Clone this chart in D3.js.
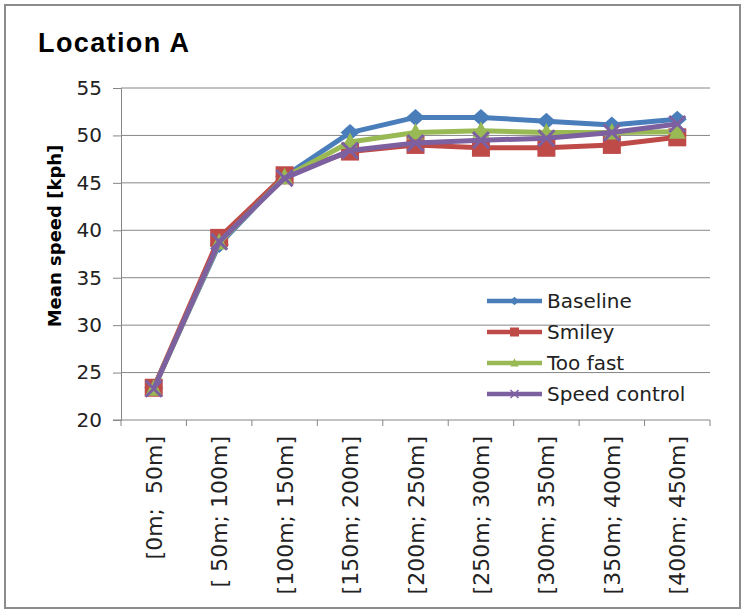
<!DOCTYPE html>
<html lang="en">
<head>
    <meta charset="UTF-8">
    <title>Location A</title>
    <script src="https://cdn.jsdelivr.net/npm/d3@7"></script>
    <style>
        body { margin: 0; background: #fff; }
        text { font-family: "DejaVu Sans", Verdana, sans-serif; }
    </style>
</head>
<body>
<script>
    var categories = ["[0m;  50m]", "[ 50m; 100m]", "[100m; 150m]", "[150m; 200m]", "[200m; 250m]",
        "[250m; 300m]", "[300m; 350m]", "[350m; 400m]", "[400m; 450m]"];
    var seriesNames = ["Baseline", "Smiley", "Too fast", "Speed control"];
    var baseline = [23.4, 38.5, 45.7, 50.3, 51.9, 51.9, 51.5, 51.1, 51.7];
    var smiley = [23.4, 39.2, 45.8, 48.3, 49.0, 48.7, 48.7, 49.0, 49.8];
    var tooFast = [23.3, 38.7, 45.6, 49.3, 50.3, 50.5, 50.3, 50.3, 50.4];
    var speedControl = [23.3, 38.8, 45.5, 48.4, 49.2, 49.5, 49.7, 50.3, 51.2];
    var yTicks = [20, 25, 30, 35, 40, 45, 50, 55];

    var colors = ["#4a7ebb", "#be4b48", "#98b954", "#7d60a0"];
    var markers = ["diamond", "square", "triangle", "x"];
    var allSeries = [baseline, smiley, tooFast, speedControl];

    var width = 743, height = 610;
    var plotLeft = 121, plotRight = 710, plotTop = 88, plotBottom = 420;

    var svg = d3.select("body").append("svg")
        .attr("width", width)
        .attr("height", height);

    // outer frame
    svg.append("rect")
        .attr("x", 5).attr("y", 5)
        .attr("width", 735).attr("height", 603)
        .attr("fill", "#fff")
        .attr("stroke", "#8c8c8c")
        .attr("stroke-width", 2);

    svg.append("text")
        .attr("x", 38).attr("y", 52)
        .style("font-family", "'Liberation Sans', Arial, sans-serif")
        .style("font-weight", "bold")
        .style("font-size", "27px")
        .attr("textLength", 151)
        .text("Location A");

    var x = d3.scaleBand().domain(categories).range([plotLeft, plotRight]);
    var y = d3.scaleLinear().domain([20, 55]).range([plotBottom, plotTop]);

    // gridlines
    svg.append("g").selectAll("line")
        .data(yTicks.slice(1))
        .enter().append("line")
        .attr("x1", plotLeft).attr("x2", plotRight)
        .attr("y1", function(d) { return y(d); })
        .attr("y2", function(d) { return y(d); })
        .attr("stroke", "#868686")
        .attr("stroke-width", 1);

    // y axis
    var yAxis = svg.append("g")
        .attr("transform", "translate(" + plotLeft + ",0)")
        .call(d3.axisLeft(y).tickValues(yTicks).tickSize(8).tickPadding(11));
    yAxis.select(".domain").attr("stroke", "#868686");
    yAxis.selectAll(".tick line").attr("stroke", "#868686");
    yAxis.selectAll("text")
        .style("font-family", "'DejaVu Sans', Verdana, sans-serif")
        .style("font-size", "20px")
        .attr("fill", "#222");

    // x axis, ticks on band boundaries
    svg.append("line")
        .attr("x1", plotLeft - 8).attr("x2", plotRight)
        .attr("y1", plotBottom).attr("y2", plotBottom)
        .attr("stroke", "#868686");
    svg.append("g").selectAll("line")
        .data(d3.range(categories.length + 1))
        .enter().append("line")
        .attr("x1", function(i) { return plotLeft + i * x.step(); })
        .attr("x2", function(i) { return plotLeft + i * x.step(); })
        .attr("y1", plotBottom).attr("y2", plotBottom + 6)
        .attr("stroke", "#868686");

    svg.append("g").selectAll("text")
        .data(categories)
        .enter().append("text")
        .attr("transform", function(d) {
            return "translate(" + (x(d) + x.bandwidth() / 2 + 8) + "," + 436 + ") rotate(-90)";
        })
        .attr("text-anchor", "end")
        .style("font-size", "22px")
        .style("white-space", "pre")
        .attr("fill", "#222")
        .text(function(d) { return d; });

    svg.append("text")
        .attr("transform", "translate(61,236) rotate(-90)")
        .attr("text-anchor", "middle")
        .style("font-weight", "bold")
        .style("font-size", "18px")
        .text("Mean speed [kph]");

    var line = d3.line()
        .x(function(d, i) { return x(categories[i]) + x.bandwidth() / 2; })
        .y(function(d) { return y(d); });

    function drawMarker(g, type, color, cx, cy) {
        if (type === "diamond") {
            g.append("path")
                .attr("d", "M0,-8.5L9.5,0L0,8.5L-9.5,0Z")
                .attr("transform", "translate(" + cx + "," + cy + ")")
                .attr("fill", color);
        } else if (type === "square") {
            g.append("rect")
                .attr("x", cx - 9).attr("y", cy - 9)
                .attr("width", 18).attr("height", 18)
                .attr("fill", color);
        } else if (type === "triangle") {
            g.append("path")
                .attr("d", "M0,-9.5L8.5,7L-8.5,7Z")
                .attr("transform", "translate(" + cx + "," + cy + ")")
                .attr("fill", color);
        } else {
            g.append("path")
                .attr("d", "M-8,-8L8,8M-8,8L8,-8")
                .attr("transform", "translate(" + cx + "," + cy + ")")
                .attr("stroke", color)
                .attr("stroke-width", 3)
                .attr("fill", "none");
        }
    }

    allSeries.forEach(function(vals, s) {
        var g = svg.append("g");
        g.append("path")
            .datum(vals)
            .attr("d", line)
            .attr("fill", "none")
            .attr("stroke", colors[s])
            .attr("stroke-width", 5)
            .attr("stroke-linejoin", "round");
        vals.forEach(function(v, i) {
            drawMarker(g, markers[s], colors[s], x(categories[i]) + x.bandwidth() / 2, y(v));
        });
    });

    // legend
    var lg = svg.append("g");
    seriesNames.forEach(function(name, s) {
        var ly = 301 + s * 31;
        lg.append("line")
            .attr("x1", 487).attr("x2", 542)
            .attr("y1", ly).attr("y2", ly)
            .attr("stroke", colors[s])
            .attr("stroke-width", 4.5);
        var mg = lg.append("g").attr("transform", "translate(514.5," + ly + ") scale(0.5) translate(-514.5," + (-ly) + ")");
        drawMarker(mg, markers[s], colors[s], 514.5, ly);
        lg.append("text")
            .attr("x", 547).attr("y", ly)
            .attr("dy", "0.36em")
            .style("font-size", "20px")
            .attr("fill", "#222")
            .text(name);
    });
</script>
</body>
</html>
